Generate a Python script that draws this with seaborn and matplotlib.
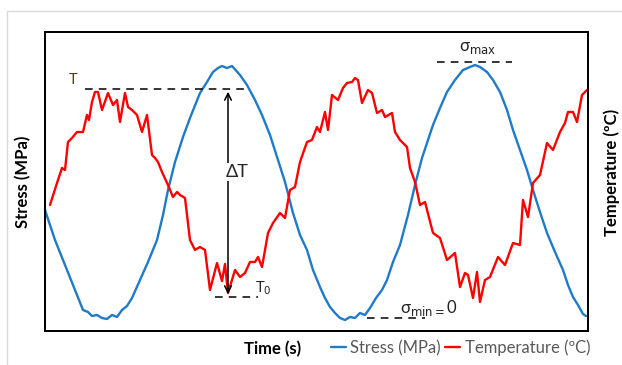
import matplotlib
matplotlib.use("Agg")
import matplotlib.pyplot as plt
import seaborn as sns
import pandas as pd
from matplotlib.lines import Line2D

# stress cycle (time in s, stress in MPa)
stress_time = [0.0, 1.0, 2.0, 3.0, 3.8, 4.3, 4.7, 5.2, 5.7, 6.2, 6.7, 7.2, 7.7, 8.2, 8.7,
               9.5, 10.3, 11.2, 11.8, 12.3, 13.0, 13.8, 14.5, 15.5, 16.2, 16.8, 17.3, 17.7,
               18.2, 18.7, 19.5, 20.2, 21.0, 21.7, 22.5, 23.3, 24.0, 24.8, 25.5, 26.2, 26.8,
               27.5, 28.0, 28.5, 29.0, 29.5, 30.0, 30.5, 31.0, 31.5, 32.0, 32.5, 33.1, 33.7,
               34.2, 34.8, 35.5, 36.3, 37.0, 37.7, 38.3, 38.8, 39.5, 40.2, 41.0, 41.8, 42.5,
               43.0, 43.5, 44.2, 44.8, 45.5, 46.2, 46.8, 47.5, 48.2, 48.8, 49.5, 50.2, 51.0,
               51.8, 52.3, 52.8, 53.3, 53.8, 54.1]
stress_mpa = [54, 39, 26.5, 14, 4, 3, 1, 1.5, 0, -0.5, 1.5, 0.5, 4, 6, 10,
              19, 28, 39, 51.5, 64, 78, 90.5, 100, 112.5, 118, 123, 125, 126,
              125, 126, 121.5, 116.5, 109, 101.5, 91.5, 79, 68, 52.5, 41.5, 34, 24,
              15.5, 10, 5.5, 2.5, 0, -1, 0.5, 0, 2.5, 1.5, 5, 10, 14,
              19, 28, 36.5, 51.5, 66.5, 80, 89, 96.5, 105, 113, 119, 124, 125.5,
              126.5, 125.5, 123, 119, 113, 104, 94, 84, 74, 64, 53, 42.5, 33,
              24, 16.5, 10.5, 6.5, 2, 1]

# temperature response (time in s, temperature in degC)
temp_time = [0.5, 1.2, 1.7, 2.0, 2.3, 2.7, 3.2, 3.8, 4.2, 4.4, 4.7, 5.0, 5.3, 5.7, 6.3,
             6.8, 7.2, 7.5, 8.0, 8.3, 8.7, 9.2, 9.7, 10.2, 10.7, 11.0, 11.3, 11.7, 12.3,
             12.8, 13.2, 13.5, 14.0, 14.5, 15.0, 15.5, 16.0, 16.5, 17.2, 17.7, 18.0, 18.3,
             19.0, 19.5, 20.0, 20.5, 21.0, 21.3, 21.7, 22.3, 22.8, 23.5, 24.0, 24.5, 25.0,
             25.5, 26.2, 26.7, 27.2, 27.5, 28.0, 28.3, 28.7, 29.3, 29.8, 30.2, 30.7, 31.0,
             31.3, 31.7, 32.3, 32.7, 33.2, 33.7, 34.0, 34.7, 35.0, 35.5, 36.2, 36.5, 37.0,
             37.5, 38.0, 38.8, 39.5, 40.2, 41.0, 41.5, 42.0, 42.3, 42.8, 43.2, 43.5, 44.0,
             44.5, 45.3, 46.0, 46.8, 47.5, 47.8, 48.3, 48.8, 49.5, 50.2, 50.8, 51.5, 52.0,
             52.3, 52.8, 53.2, 53.7, 54.2]
temp_c = [29.1, 31.3, 32.8, 32.6, 35.4, 35.8, 36.4, 36.4, 38.1, 37.6, 39.4, 40.4, 40.4, 38.6, 40.3,
          39.1, 39.6, 37.4, 40.3, 38.9, 38.6, 38.1, 36.4, 38.1, 34.1, 33.8, 33.4, 32.4, 31.1,
          29.9, 30.4, 30.1, 29.8, 25.6, 24.6, 24.9, 24.6, 20.6, 23.3, 21.5, 23.2, 20.3,
          22.6, 21.9, 22.3, 23.4, 23.4, 23.9, 22.9, 26.3, 27.3, 28.3, 27.8, 30.6, 30.9,
          33.4, 35.4, 35.6, 36.9, 36.4, 38.4, 36.6, 40.1, 39.6, 40.8, 41.3, 41.4, 41.8,
          41.6, 39.3, 40.6, 40.3, 38.3, 38.6, 37.9, 38.3, 36.4, 35.6, 34.9, 32.8, 31.4,
          29.1, 29.4, 26.3, 25.8, 23.6, 24.3, 20.9, 22.3, 22.1, 19.8, 22.4, 19.4, 21.6,
          21.9, 23.9, 23.1, 25.3, 25.1, 29.6, 27.9, 31.3, 32.1, 35.3, 34.6, 36.4, 37.3,
          38.4, 38.4, 37.4, 40.1, 40.6]

# annotation levels
T_max, T_0 = 40.7, 19.9
sigma_max, sigma_min = 128, 0

BLUE = "#1f7ac8"
RED = "#ff0000"
GREY = "#595959"

sns.set_theme(style="white")
plt.rcParams["font.family"] = ["Lato", "DejaVu Sans"]

stress_df = pd.DataFrame({"time": stress_time, "stress": stress_mpa})
temp_df = pd.DataFrame({"time": temp_time, "temp": temp_c})

fig = plt.figure(figsize=(6.22, 3.65), dpi=100)
ax = fig.add_axes([45 / 622, 34 / 365, 543 / 622, 299 / 365])
ax2 = ax.twinx()

sns.lineplot(data=stress_df, x="time", y="stress", ax=ax, color=BLUE, lw=1.7)
sns.lineplot(data=temp_df, x="time", y="temp", ax=ax2, color=RED, lw=1.7)

ax.set_xlim(0, 54.3)
ax.set_ylim(-6.5, 143)
ax2.set_ylim(16.5, 46.4)
for a in (ax, ax2):
    a.set_xticks([])
    a.set_yticks([])
    for s in a.spines.values():
        s.set_color("black")
        s.set_linewidth(1.3)

ax.set_ylabel("Stress (MPa)", fontsize=12, fontweight="bold", color="black")
ax.yaxis.set_label_coords(-14 / 543, 0.5)
ax2.set_ylabel("Temperature (\u00baC)", fontsize=12, fontweight="bold", color="black",
               rotation=90)
ax2.yaxis.set_label_coords(1 + 15 / 543, 0.53)
ax.set_xlabel("Time (s)", fontsize=12, fontweight="bold", color="black")
ax.xaxis.set_label_coords((273 - 45) / 543, -0.035)

# temperature annotations
dash = dict(color="black", lw=1.1, ls=(0, (5, 4)))
ax2.plot([4.0, 20.0], [T_max, T_max], **dash)
ax2.plot([17.0, 21.3], [T_0, T_0], **dash)
ax2.annotate("", xy=(18.3, T_0), xytext=(18.3, T_max),
             arrowprops=dict(arrowstyle="<->", color="black", lw=1.1))
ax2.text(19.2, 32.4, "\u0394T", fontsize=13, ha="center", va="center",
         bbox=dict(fc="white", ec="none", pad=1))
ax2.text(2.8, 41.6, "T", fontsize=10.5, ha="center", va="center", color="#4a3c1c")
ax2.text(21.0, 20.8, "T$_0$", fontsize=10.5, ha="left", va="center", color="#222222")

# stress annotations
ax.plot([39.2, 46.7], [sigma_max, sigma_max], **dash)
ax.plot([32.2, 38.0], [sigma_min, sigma_min], **dash)
ax.text(43.3, 135, "\u03c3$_{\\rm max}$", fontsize=12, ha="center", va="center", color="#222222")
ax.text(35.5, 5, "\u03c3$_{\\rm min = }$0", fontsize=12, ha="left", va="center", color="#222222")

handles = [Line2D([], [], color=BLUE, lw=1.7), Line2D([], [], color=RED, lw=1.7)]
leg = fig.legend(handles, ["Stress (MPa)", "Temperature (\u00baC)"], ncol=2,
                 loc="center right", bbox_to_anchor=(590 / 622, 1 - 348 / 365),
                 frameon=False, fontsize=12, handlelength=0.9, handletextpad=0.25,
                 columnspacing=0.3, borderaxespad=0, borderpad=0)
for t in leg.get_texts():
    t.set_color(GREY)

# light outer frame
fig.add_artist(Line2D([7 / 622, 7 / 622], [0, 1 - 11 / 365], transform=fig.transFigure,
                      color="#d9d9d9", lw=1))
fig.add_artist(Line2D([7 / 622, 1], [1 - 11 / 365, 1 - 11 / 365], transform=fig.transFigure,
                      color="#d9d9d9", lw=1))

fig.savefig("out.png", dpi=100)
